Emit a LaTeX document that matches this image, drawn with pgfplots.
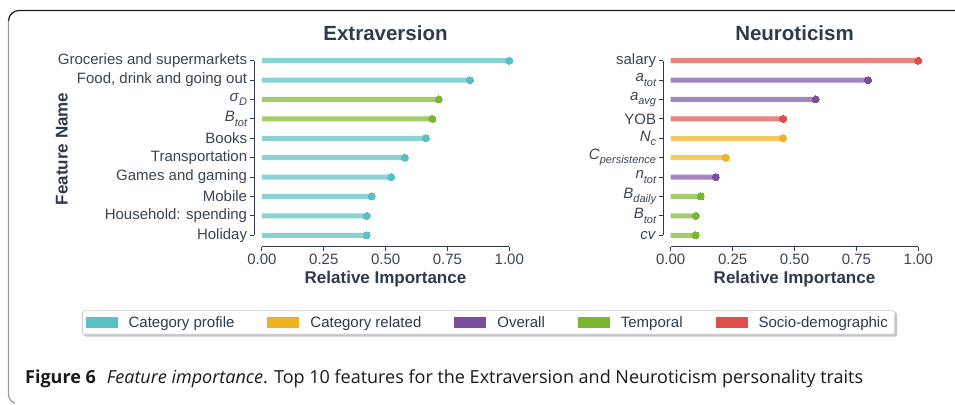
\documentclass[border=0pt]{standalone}
\usepackage{fontspec}
\setmainfont{Liberation Sans}
\newfontfamily\capfont{Open Sans}
\usepackage{pgfplots}
\usepackage{pgfplotstable}
\pgfplotsset{compat=1.18}
\pgfdeclarelayer{background}
\pgfsetlayers{background,main}

\definecolor{cTeal}{HTML}{5BC0C3}
\definecolor{cTealL}{HTML}{8AD3D4}
\definecolor{cYel}{HTML}{EEB120}
\definecolor{cYelL}{HTML}{F3C862}
\definecolor{cPur}{HTML}{7B4F9D}
\definecolor{cPurL}{HTML}{A485BE}
\definecolor{cGrn}{HTML}{7AB630}
\definecolor{cGrnL}{HTML}{A3CD6C}
\definecolor{cRed}{HTML}{E0504A}
\definecolor{cRedL}{HTML}{E8847E}
\definecolor{slate}{HTML}{2E3B4C}
\definecolor{ticktxt}{HTML}{3A4452}

% Extraversion
\pgfplotstableread{
x y
1.000 9
0.841 8
0.663 5
0.577 4
0.522 3
0.443 2
0.423 1
0.423 0
}\extTeal
\pgfplotstableread{
x y
0.714 7
0.689 6
}\extGrn
% Neuroticism
\pgfplotstableread{
x y
1.000 9
0.455 6
}\neuRed
\pgfplotstableread{
x y
0.797 8
0.585 7
0.182 3
}\neuPur
\pgfplotstableread{
x y
0.454 5
0.222 4
}\neuYel
\pgfplotstableread{
x y
0.121 2
0.101 1
0.101 0
}\neuGrn

\newcommand{\lbl}{\fontsize{15}{18}\selectfont}
\newcommand{\mi}[2]{\textit{#1}\raisebox{-0.28em}{\fontsize{11}{12}\selectfont\itshape #2}}

\pgfplotsset{
  lolli/.style={scale only axis, width=262.4pt, height=195.7pt,
    xmin=-0.0311, xmax=1.03, ymin=-0.59, ymax=9.5,
    clip=false,
    axis line style={draw=none},
    xtick pos=lower, ytick pos=left, tick align=outside,
    major tick length=4pt,
    every tick/.style={slate, line width=1pt},
    xtick={0,0.25,0.5,0.75,1},
    ytick={0,...,9},
    xticklabel style={/pgf/number format/fixed, /pgf/number format/fixed zerofill, /pgf/number format/precision=2, /pgf/number format/assume math mode=true, font=\lbl, text=ticktxt, inner ysep=3pt},
    yticklabel style={font=\lbl, text=ticktxt, inner xsep=3pt},
    xlabel={Relative Importance},
    xlabel style={font=\bfseries\fontsize{17}{20}\selectfont, text=slate, at={(axis description cs:0.5,-0.19)}, anchor=base},
    title style={font=\bfseries\fontsize{20.5}{24}\selectfont, text=slate, at={(axis description cs:0.5,1.022)}, anchor=base},
  },
  bar/.style={xbar, bar width=5pt, bar shift=0pt, draw=none, fill=#1, forget plot},
  dot/.style={only marks, color=#1, mark=*, mark size=3.5pt, mark options={solid, fill=#1, draw=#1, line width=0pt}, forget plot},
}

\begin{document}
\begin{tikzpicture}
\useasboundingbox (0pt,0pt) rectangle (955pt,404pt);
% frame
\draw[black!90, line width=1.2pt] (955pt,393.5pt) -- (19pt,393.5pt) arc[start angle=90, end angle=180, radius=10.5pt];
\draw[gray!80, line width=1.2pt] (8.5pt,383pt) -- (8.5pt,10pt) arc[start angle=180, end angle=250, radius=10pt];

\begin{axis}[lolli, at={(254.3pt,157.3pt)}, anchor=south west,
  title={Extraversion},
  ylabel={Feature Name},
  ylabel style={font=\bfseries\fontsize{17}{20}\selectfont, text=slate, at={(axis description cs:-0.733,0.5)}, anchor=center},
  yticklabels={Holiday, Household: spending, Mobile, Games and gaming, Transportation, Books, \mi{B}{tot}, \mi{σ}{D}, {Food, drink and going out}, Groceries and supermarkets},
  legend columns=5,
  legend image code/.code={\path[draw=none, fill=none] (0pt,-5.5pt) rectangle (39pt,5.5pt); \path[draw=none, fill=#1, sharp corners] (0pt,-5.5pt) rectangle (32pt,5.5pt);},
  legend style={name=leg, at={(axis description cs:0.8933,-0.3873)}, anchor=center,
    draw=gray!40, fill=white, rounded corners=2pt, line width=0.8pt,
    font=\lbl, text=slate, inner xsep=3pt, inner ysep=3.5pt,
    /tikz/every even column/.append style={column sep=29pt},
    nodes={inner xsep=4pt}},
]
\addplot[bar=cTealL] table {\extTeal};
\addplot[bar=cGrnL] table {\extGrn};
\addplot[dot=cTeal] table {\extTeal};
\addplot[dot=cGrn] table {\extGrn};
\draw[slate, line width=1.1pt] (axis cs:-0.0311,0) -- (axis cs:-0.0311,9);
\draw[slate, line width=1.1pt] (axis cs:0,-0.59) -- (axis cs:1,-0.59);
\addlegendimage{cTeal}\addlegendentry{Category profile}
\addlegendimage{cYel}\addlegendentry{Category related}
\addlegendimage{cPur}\addlegendentry{Overall}
\addlegendimage{cGrn}\addlegendentry{Temporal}
\addlegendimage{cRed}\addlegendentry{Socio-demographic}
\end{axis}

\begin{pgfonlayer}{background}
\fill[gray!45, rounded corners=2pt] ([xshift=1.8pt,yshift=-2pt]leg.south west) rectangle ([xshift=1.8pt,yshift=-2pt]leg.north east);
\end{pgfonlayer}

\begin{axis}[lolli, at={(663.3pt,157.3pt)}, anchor=south west, xmin=-0.030,
  title={Neuroticism},
  yticklabels={\textit{cv}, \mi{B}{tot}, \mi{B}{daily}, \mi{n}{tot}, \mi{C}{persistence}, \mi{N}{c}, YOB, \mi{a}{avg}, \mi{a}{tot}, salary},
]
\addplot[bar=cRedL] table {\neuRed};
\addplot[bar=cPurL] table {\neuPur};
\addplot[bar=cYelL] table {\neuYel};
\addplot[bar=cGrnL] table {\neuGrn};
\addplot[dot=cRed] table {\neuRed};
\addplot[dot=cPur] table {\neuPur};
\addplot[dot=cYel] table {\neuYel};
\addplot[dot=cGrn] table {\neuGrn};
\draw[slate, line width=1.1pt] (axis cs:-0.030,0) -- (axis cs:-0.030,9);
\draw[slate, line width=1.1pt] (axis cs:0,-0.59) -- (axis cs:1,-0.59);
\end{axis}

\node[anchor=base west, inner sep=0pt, font=\capfont\fontsize{18}{21}\selectfont, text=black!90] at (25pt,20pt)
  {\textbf{Figure 6}\hspace{0.6em}\textit{Feature importance}. Top 10 features for the Extraversion and Neuroticism personality traits};
\end{tikzpicture}
\end{document}
